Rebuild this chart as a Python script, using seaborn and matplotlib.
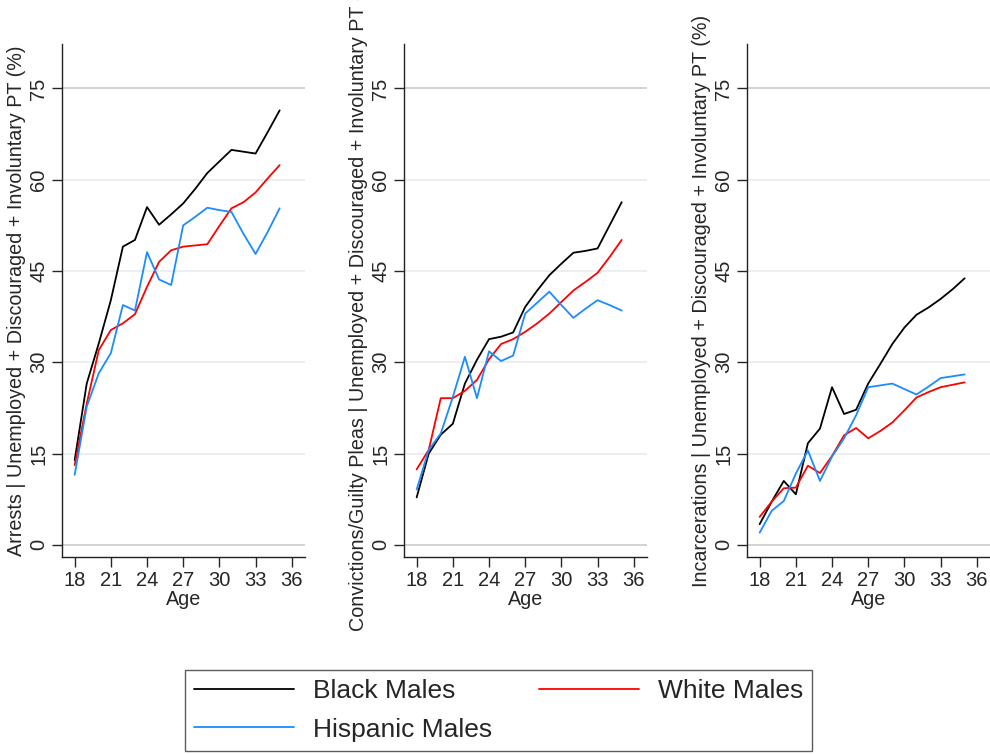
import numpy as np
import pandas as pd
import matplotlib
matplotlib.use("Agg")
import matplotlib.pyplot as plt
import seaborn as sns

sns.set_style("white")
plt.rcParams["font.family"] = ["Liberation Sans", "DejaVu Sans"]

# data (percent, ages 18-35)
ages = list(range(18, 36))
groups = ["Black Males", "White Males", "Hispanic Males"]
colors = {"Black Males": "#000000", "White Males": "#ff0000", "Hispanic Males": "#1a8cff"}

arrests_black = [13.9, 26.5, 33.1, 40.2, 49.0, 50.1, 55.5, 52.6, 54.3, 56.1,
                 58.5, 61.1, 63.0, 64.9, 64.6, 64.3, 67.8, 71.4]
arrests_white = [13.1, 23.2, 32.0, 35.3, 36.4, 37.9, 42.4, 46.5, 48.4, 49.0,
                 49.2, 49.4, 52.4, 55.3, 56.3, 57.9, 60.2, 62.4]
arrests_hisp = [11.5, 22.7, 28.2, 31.5, 39.4, 38.5, 48.1, 43.6, 42.7, 52.5,
                53.9, 55.4, 55.0, 54.7, 51.1, 47.8, 51.4, 55.3]

conv_black = [7.8, 15.0, 18.1, 19.9, 26.5, 30.4, 33.8, 34.2, 34.9, 39.1,
              41.8, 44.3, 46.2, 48.0, 48.3, 48.7, 52.5, 56.3]
conv_white = [12.4, 15.6, 24.1, 24.1, 25.3, 27.1, 30.5, 33.0, 33.8, 35.0,
              36.4, 38.0, 39.9, 41.8, 43.2, 44.7, 47.3, 50.1]
conv_hisp = [9.1, 15.6, 18.3, 24.3, 30.9, 24.1, 31.8, 30.2, 31.1, 38.0,
             39.8, 41.6, 39.4, 37.3, 38.8, 40.2, 39.4, 38.5]

inc_black = [3.4, 7.1, 10.5, 8.3, 16.7, 19.1, 25.9, 21.5, 22.2, 26.5,
             29.7, 33.0, 35.7, 37.8, 39.0, 40.4, 42.0, 43.8]
inc_white = [4.6, 7.1, 9.3, 9.4, 13.0, 11.8, 14.6, 18.0, 19.2, 17.5,
             18.7, 20.1, 22.1, 24.2, 25.1, 25.9, 26.3, 26.7]
inc_hisp = [2.0, 5.6, 7.2, 11.7, 15.5, 10.5, 14.5, 17.5, 21.3, 25.9,
            26.2, 26.5, 25.6, 24.7, 26.0, 27.4, 27.7, 28.0]

panels = [
    ("Arrests | Unemployed + Discouraged + Involuntary PT (%)",
     [arrests_black, arrests_white, arrests_hisp]),
    ("Convictions/Guilty Pleas | Unemployed + Discouraged + Involuntary PT (%)",
     [conv_black, conv_white, conv_hisp]),
    ("Incarcerations | Unemployed + Discouraged + Involuntary PT (%)",
     [inc_black, inc_white, inc_hisp]),
]

yticks = [0, 15, 30, 45, 60, 75]
xticks = [18, 21, 24, 27, 30, 33, 36]

fig = plt.figure(figsize=(9.9, 7.54), dpi=100)
lefts = [62, 404, 747]
W, H = 990, 754
top_px, bot_px, width_px = 44, 557, 243

handles = None
for i, (ylab, series) in enumerate(panels):
    ax = fig.add_axes([lefts[i] / W, (H - bot_px) / H, width_px / W, (bot_px - top_px) / H])
    df = pd.DataFrame({
        "Age": ages * 3,
        "Rate": series[0] + series[1] + series[2],
        "Group": np.repeat(groups, len(ages)),
    })
    for y in yticks:
        c = "#cfcfcf" if y in (0, 75) else "#e8eef3"
        ax.axhline(y, color=c, lw=1.3, zorder=0)
    sns.lineplot(data=df, x="Age", y="Rate", hue="Group", hue_order=groups,
                 palette=colors, lw=1.3, ax=ax, legend=(i == 0))
    if i == 0:
        handles, labels = ax.get_legend_handles_labels()
        ax.get_legend().remove()
    ax.set_xlim(16.95, 37.1)
    ax.set_ylim(-2.0, 82.3)
    ax.set_xticks(xticks)
    ax.set_yticks(yticks)
    ax.tick_params(axis="y", labelrotation=90, length=7, width=1, pad=3,
                   labelsize=14.5, left=True)
    ax.tick_params(axis="x", length=7, width=1, pad=3, labelsize=14.5, bottom=True)
    for t in ax.get_yticklabels():
        t.set_va("center")
    for s in ["top", "right"]:
        ax.spines[s].set_visible(False)
    for s in ["left", "bottom"]:
        ax.spines[s].set_color("#222222")
        ax.spines[s].set_linewidth(1)
    ax.set_xlabel("Age", fontsize=14.2, labelpad=0)
    ax.set_ylabel(ylab, fontsize=14.2, labelpad=2)
    ax.grid(False)

order = [0, 2, 1]
leg = fig.legend([handles[k] for k in order], [labels[k] for k in order],
                 loc="center", bbox_to_anchor=(0.5035, 0.058), ncol=2,
                 fontsize=19, handlelength=3.8, handletextpad=0.7,
                 columnspacing=1.8, labelspacing=0.55, borderpad=0.35,
                 frameon=True, fancybox=False)
leg.get_frame().set_edgecolor("#333333")
leg.get_frame().set_linewidth(1)

fig.savefig("out.png", dpi=100)
